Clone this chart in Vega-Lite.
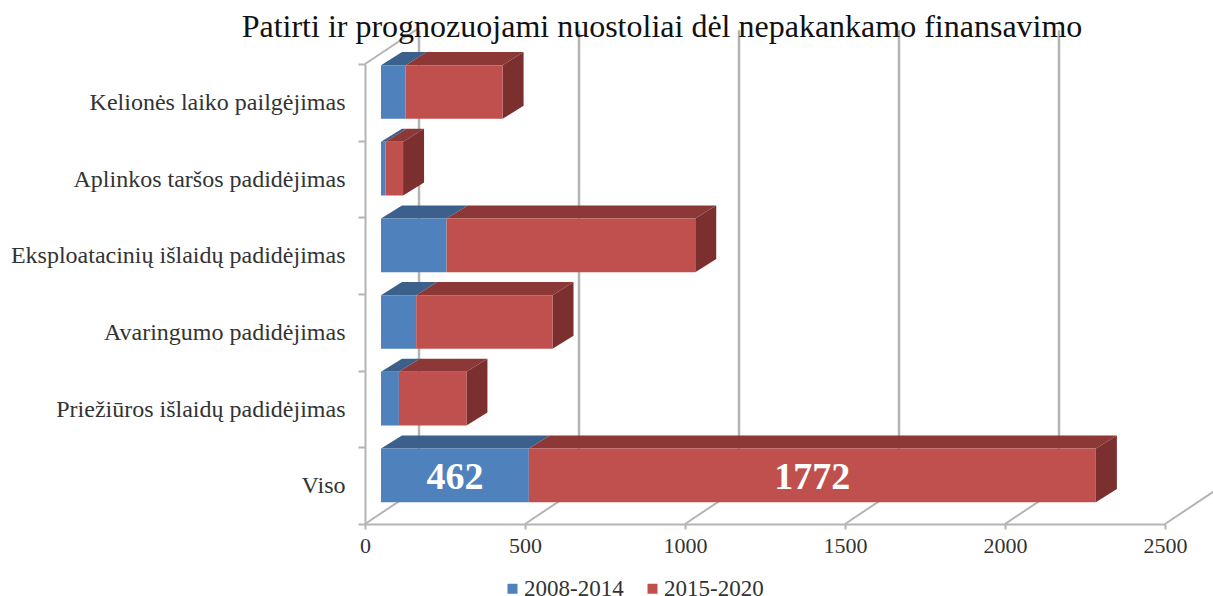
{
"$schema":"https://vega.github.io/schema/vega-lite/v6.json",
"width":800,"height":460,
"autosize":{"type":"none"},
"padding":{"left":365,"top":64,"right":48,"bottom":72},
"background":"white",
"view":{"stroke":null},
"title":{"text":"Patirti ir prognozuojami nuostoliai dėl nepakankamo finansavimo","font":"Liberation Serif","fontSize":32,"fontWeight":"normal","color":"#111111","anchor":"middle","dx":-103,"offset":-17},
"data":{"values":[
{"cat":"Viso","period":"2008-2014","value":462},
{"cat":"Viso","period":"2015-2020","value":1772},
{"cat":"Priežiūros išlaidų padidėjimas","period":"2008-2014","value":56},
{"cat":"Priežiūros išlaidų padidėjimas","period":"2015-2020","value":211},
{"cat":"Avaringumo padidėjimas","period":"2008-2014","value":110},
{"cat":"Avaringumo padidėjimas","period":"2015-2020","value":426},
{"cat":"Eksploatacinių išlaidų padidėjimas","period":"2008-2014","value":205},
{"cat":"Eksploatacinių išlaidų padidėjimas","period":"2015-2020","value":777},
{"cat":"Aplinkos taršos padidėjimas","period":"2008-2014","value":14},
{"cat":"Aplinkos taršos padidėjimas","period":"2015-2020","value":55},
{"cat":"Kelionės laiko pailgėjimas","period":"2008-2014","value":77},
{"cat":"Kelionės laiko pailgėjimas","period":"2015-2020","value":303}
]},
"transform":[
{"stack":"value","groupby":["cat"],"sort":[{"field":"period","order":"ascending"}],"as":["start","end"]},
{"calculate":"indexof(['Viso','Priežiūros išlaidų padidėjimas','Avaringumo padidėjimas','Eksploatacinių išlaidų padidėjimas','Aplinkos taršos padidėjimas','Kelionės laiko pailgėjimas'],datum.cat)","as":"pos"},
{"calculate":"datum.pos+0.285","as":"low"},
{"calculate":"datum.pos+0.985","as":"high"}
],
"resolve":{"scale":{"x":"independent","y":"independent"},"axis":{"x":"independent","y":"independent"}},
"layer":[
{"data":{"values":[{"tick":0},{"tick":500},{"tick":1000},{"tick":1500},{"tick":2000},{"tick":2500}]},
 "transform":[{"calculate":"datum.tick+168.75","as":"back"}],
 "mark":{"type":"rule","color":"#b4b4b4","strokeWidth":2,"clip":false},
 "encoding":{
  "x":{"field":"tick","type":"quantitative","scale":{"domain":[0,2500],"nice":false},"axis":null},
  "x2":{"field":"back"},
  "y":{"datum":0,"type":"quantitative","scale":{"domain":[0,6],"nice":false,"zero":false},"axis":null},
  "y2":{"datum":0.47}}},
{"data":{"values":[{"tick":0},{"tick":500},{"tick":1000},{"tick":1500},{"tick":2000}]},
 "mark":{"type":"rule","color":"#b4b4b4","strokeWidth":2.5,"clip":false},
 "encoding":{
  "x":{"field":"tick","type":"quantitative","scale":{"domain":[-168.75,2331.25],"nice":false},"axis":null},
  "y":{"datum":0.47,"type":"quantitative","scale":{"domain":[0,6],"nice":false,"zero":false},"axis":null},
  "y2":{"datum":6.44}}},
{"data":{"values":[{"tick":0}]},
 "mark":{"type":"rule","color":"#b4b4b4","strokeWidth":2,"clip":false},
 "encoding":{
  "x":{"field":"tick","type":"quantitative","scale":{"domain":[0,2500],"nice":false},"axis":null},
  "x2":{"datum":168.75},
  "y":{"datum":6,"type":"quantitative","scale":{"domain":[0,6],"nice":false,"zero":false},"axis":null},
  "y2":{"datum":6.47}}},
{"mark":{"type":"bar","opacity":0},
 "encoding":{
  "x":{"field":"start","type":"quantitative","scale":{"domain":[0,2500],"nice":false},
   "axis":{"title":null,"values":[0,500,1000,1500,2000,2500],"format":"d","grid":false,"domainColor":"#b4b4b4","domainWidth":2,"tickColor":"#b4b4b4","tickWidth":2,"tickSize":5,"labelFont":"Liberation Serif","labelFontSize":22,"labelColor":"#333333","labelPadding":6,"labelFlush":false}},
  "x2":{"field":"end"},
  "y":{"field":"cat","type":"nominal","sort":["Kelionės laiko pailgėjimas","Aplinkos taršos padidėjimas","Eksploatacinių išlaidų padidėjimas","Avaringumo padidėjimas","Priežiūros išlaidų padidėjimas","Viso"],"scale":{"paddingInner":0,"paddingOuter":0},
   "axis":{"title":null,"tickBand":"extent","grid":false,"domainColor":"#b4b4b4","domainWidth":2,"tickColor":"#b4b4b4","tickWidth":2,"tickSize":7,"labelFont":"Liberation Serif","labelFontSize":24,"labelColor":"#333333","labelPadding":13,"labelLimit":400}}}},
{"transform":[{"filter":"datum.period=='2015-2020'"},{"calculate":"[0,1]","as":"d"},{"flatten":["d"]},
  {"calculate":"datum.end+datum.d*65.6","as":"xs"},
  {"calculate":"datum.low+datum.d*0.17","as":"ys"},
  {"calculate":"datum.high+datum.d*0.17","as":"ys2"}],
 "mark":{"type":"area","orient":"vertical","color":"#7b2f2e"},
 "encoding":{
  "x":{"field":"xs","type":"quantitative","scale":{"domain":[-50,2450],"nice":false},"axis":null},
  "y":{"field":"ys","type":"quantitative","scale":{"domain":[0,6],"nice":false,"zero":false},"axis":null},
  "y2":{"field":"ys2"},
  "detail":{"field":"cat"}}},
{"transform":[{"calculate":"[0,1]","as":"d"},{"flatten":["d"]},
  {"calculate":"datum.start+datum.d*65.6","as":"xs"},
  {"calculate":"datum.end+datum.d*65.6","as":"xs2"},
  {"calculate":"datum.high+datum.d*0.17","as":"ys"}],
 "mark":{"type":"area","orient":"horizontal"},
 "encoding":{
  "y":{"field":"ys","type":"quantitative","scale":{"domain":[0,6],"nice":false,"zero":false},"axis":null},
  "x":{"field":"xs","type":"quantitative","scale":{"domain":[-50,2450],"nice":false},"axis":null},
  "x2":{"field":"xs2"},
  "detail":{"field":"cat"},
  "fill":{"condition":{"test":"datum.period=='2008-2014'","value":"#3c608c"},"value":"#8c3837"},
  "order":{"field":"period"}}},
{"mark":{"type":"bar"},
 "encoding":{
  "x":{"field":"start","type":"quantitative","scale":{"domain":[-50,2450],"nice":false},"axis":null},
  "x2":{"field":"end"},
  "y":{"field":"low","type":"quantitative","scale":{"domain":[0,6],"nice":false,"zero":false},"axis":null},
  "y2":{"field":"high"},
  "color":{"field":"period","type":"nominal","scale":{"domain":["2008-2014","2015-2020"],"range":["#4f81bd","#c0504d"]},
   "legend":{"title":null,"orient":"none","legendX":136,"legendY":513,"direction":"horizontal","columns":2,"symbolType":"square","symbolSize":100,"labelFont":"Liberation Serif","labelFontSize":23,"labelColor":"#333333","labelOffset":0,"columnPadding":17,"symbolOpacity":1}}}},
{"transform":[{"filter":"datum.cat=='Viso'"},{"calculate":"(datum.start+datum.end)/2","as":"mid"},{"calculate":"datum.pos+0.605","as":"ym"}],
 "mark":{"type":"text","font":"Liberation Serif","fontWeight":"bold","fontSize":38,"color":"white","baseline":"middle","align":"center"},
 "encoding":{
  "x":{"field":"mid","type":"quantitative","scale":{"domain":[-50,2450],"nice":false},"axis":null},
  "y":{"field":"ym","type":"quantitative","scale":{"domain":[0,6],"nice":false,"zero":false},"axis":null},
  "text":{"field":"value","type":"quantitative"}}}
]
}
